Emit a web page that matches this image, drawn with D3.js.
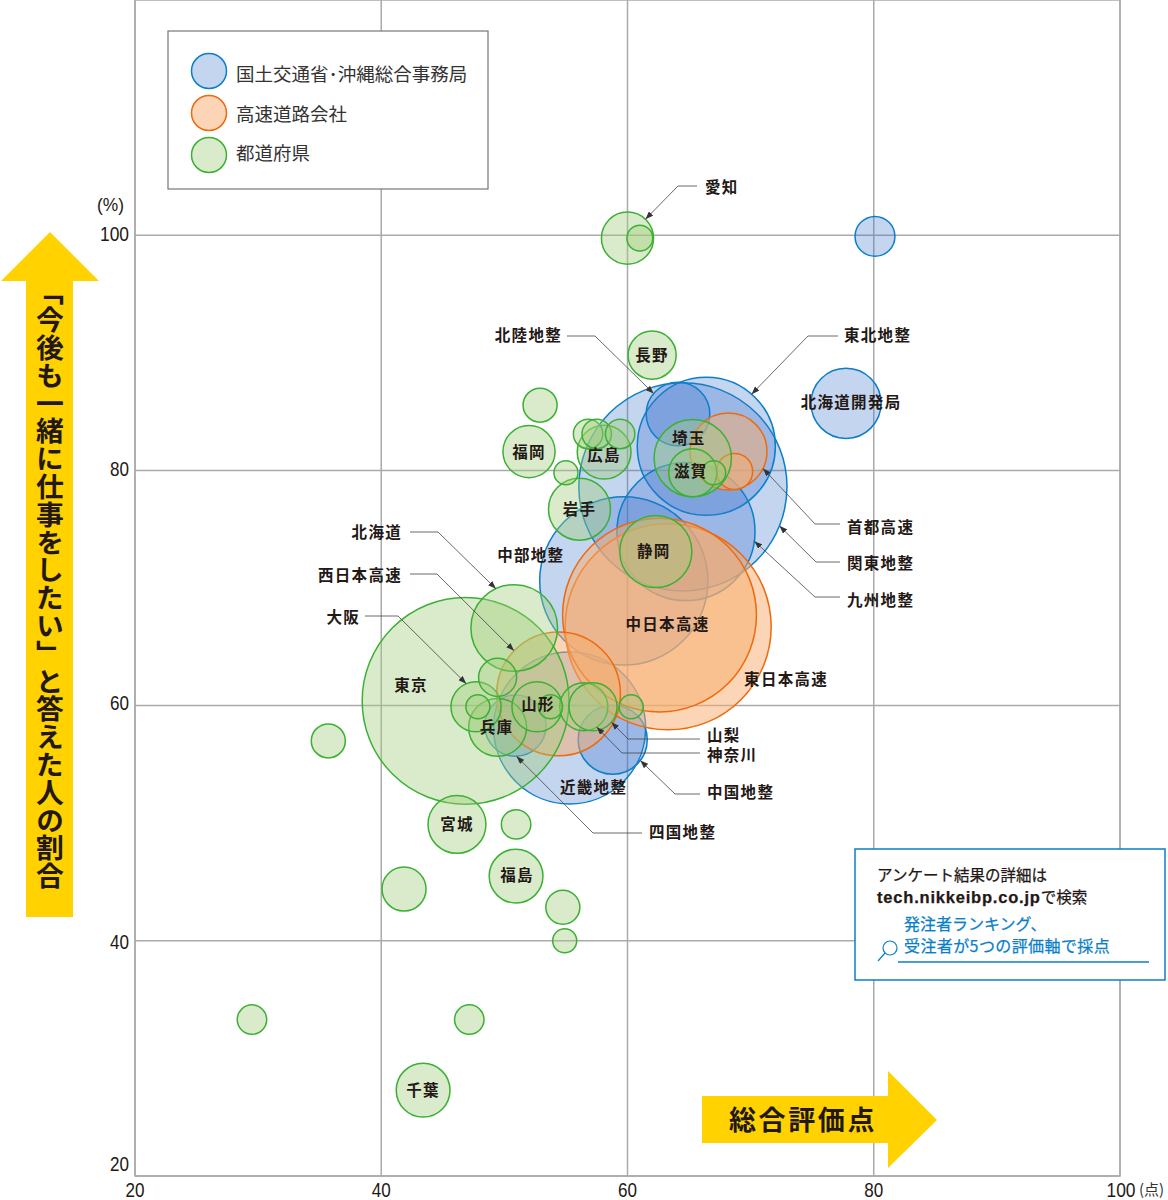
<!DOCTYPE html>
<html>
<head>
<meta charset="utf-8">
<script src="https://d3js.org/d3.v7.min.js"></script>
<style>
body { margin: 0; background: #fff; }
text { font-family: "Noto Sans CJK JP", sans-serif; fill: #231815; }
.tick text, .unit { font-family: "Liberation Sans", sans-serif; font-size: 20px; fill: #231815; }
.lbl { font-size: 15.5px; font-weight: 700; letter-spacing: 1.3px; }
.note { font-size: 15.5px; stroke: #231815; stroke-width: 0.25px; }
.note.blue { font-size: 16px; fill: #0a7fc8; stroke: #0a7fc8; }
</style>
</head>
<body>
<div id="chart"></div>
<script>
// 総合評価点 (x), 「今後も一緒に仕事をしたい」 % (y), 回答数 (bubble area)
var mlitNames = ["関東地整", "中部地整", "近畿地整", "東北地整", "九州地整", "中国地整", "北海道開発局", "北陸地整", "四国地整", ""];
var mlitScore = [64.5, 59.7, 55.3, 66.4, 64.75, 58.8, 77.75, 64.1, 50.9, 80.1];
var mlitRate = [78.6, 70.6, 58.1, 82.05, 74.8, 57.1, 85.7, 84.8, 58.3, 99.9];
var mlitCount = [150, 98, 80, 66, 66, 16.5, 17, 14, 13, 5.5];

var roadNames = ["東日本高速", "中日本高速", "西日本高速", "首都高速", ""];
var roadScore = [63.3, 62.6, 54.4, 68.2, 68.7];
var roadRate = [66.7, 67.7, 61.0, 81.6, 79.9];
var roadCount = [147, 130, 53, 20.5, 4.5];

var prefNames = ["東京", "北海道", "埼玉", "静岡", "岩手", "兵庫", "宮城", "福島", "千葉", "広島", "愛知", "福岡", "大阪", "山形", "滋賀", "神奈川", "山梨", "長野",
    "", "", "", "", "", "", "", "", "", "", "", "", "", "", "", "", "", ""];
var prefScore = [46.85, 50.8, 65.3, 62.3, 56.1, 49.45, 46.15, 50.95, 43.4, 58.1, 60.0, 52.0, 47.7, 52.65, 65.3, 56.45, 57.2, 62.0,
    61.0, 52.9, 56.8, 57.5, 59.4, 55.0, 67.0, 49.45, 47.85, 53.75, 60.3, 50.95, 35.7, 41.85, 54.75, 54.9, 29.5, 47.15];
var prefRate = [60.4, 66.6, 81.05, 73.1, 76.7, 58.15, 49.9, 45.5, 27.3, 81.55, 99.75, 81.6, 59.9, 59.9, 79.8, 59.9, 59.9, 89.8,
    99.75, 85.55, 83.1, 83.1, 83.1, 79.8, 79.8, 62.4, 59.9, 59.9, 59.9, 49.9, 57.0, 44.4, 42.85, 40.0, 33.3, 33.3];
var prefCount = [148, 26, 20.7, 18, 13.3, 11.6, 11.6, 10, 10, 10, 9.4, 9.4, 8.7, 8.7, 8, 8, 8, 8,
    2.3, 4, 3, 3, 3, 2, 2, 5, 2, 2, 2, 3, 4, 6.7, 4, 2, 3, 3];

var xTicks = [20, 40, 60, 80, 100];
var yTicks = [20, 40, 60, 80, 100];
var legendNames = ["国土交通省･沖縄総合事務局", "高速道路会社", "都道府県"];
var yTitle = "「今後も一緒に仕事をしたい」と答えた人の割合";
var xTitle = "総合評価点";

var width = 1168, height = 1200;
var plot = { left: 135, right: 1120, top: 0, bottom: 1176 };

var styles = [
    { fill: "rgba(60,115,205,0.3)", stroke: "#0a7fc8" },
    { fill: "rgba(247,171,107,0.5)", stroke: "#ee6a0c" },
    { fill: "rgba(160,205,122,0.4)", stroke: "#3cb034" }
];

var svg = d3.select("#chart").append("svg").attr("width", width).attr("height", height).style("display", "block");

var x = d3.scaleLinear().domain([20, 100]).range([plot.left, plot.right]);
var y = d3.scaleLinear().domain([20, 120]).range([plot.bottom, plot.top]);
var r = d3.scaleSqrt().domain([0, 150]).range([0, 104.1]);

function zipSeries(names, score, rate, count, style) {
    return names.map(function (n, i) { return { name: n, score: score[i], rate: rate[i], count: count[i], style: style }; });
}
var series = [
    zipSeries(mlitNames, mlitScore, mlitRate, mlitCount, 0),
    zipSeries(roadNames, roadScore, roadRate, roadCount, 1),
    zipSeries(prefNames, prefScore, prefRate, prefCount, 2)
];
var bubbles = d3.merge(series);
function bubble(name) { return bubbles.find(function (b) { return b.name === name; }); }

// frame and grid
svg.append("rect").attr("x", plot.left).attr("y", plot.top).attr("width", plot.right - plot.left).attr("height", plot.bottom - plot.top)
    .attr("fill", "none").attr("stroke", "#aaa").attr("stroke-width", 1.5);

var xAxis = svg.append("g").attr("transform", "translate(0," + plot.bottom + ")")
    .call(d3.axisBottom(x).tickValues(xTicks).tickSize(-(plot.bottom - plot.top)).tickPadding(7).offset(0));
var yAxis = svg.append("g").attr("transform", "translate(" + plot.left + ",0)")
    .call(d3.axisLeft(y).tickValues(yTicks).tickSize(-(plot.right - plot.left)).tickPadding(6).offset(0));
xAxis.select(".domain").remove();
yAxis.select(".domain").remove();
svg.selectAll(".tick line").attr("stroke", "#aaa").attr("stroke-width", 1.5);
svg.selectAll(".tick text")
    .attr("textLength", function (d) { return d === 100 ? 29 : 19; })
    .attr("lengthAdjust", "spacingAndGlyphs");
// the printed tick numbers do not sit exactly on their lines
var yTickShift = { 20: -11, 40: 2, 60: -2, 80: -1, 100: -1 };
yAxis.selectAll(".tick text").attr("dy", "0.32em").attr("transform", function (d) { return "translate(0," + yTickShift[d] + ")"; });
xAxis.selectAll(".tick text").attr("transform", function (d) { return d === 100 ? "translate(1,0)" : null; });

svg.append("text").attr("class", "unit").attr("x", 97).attr("y", 211).attr("textLength", 27).attr("lengthAdjust", "spacingAndGlyphs").style("font-size", "18px").text("(%)");
svg.append("text").attr("x", 1139).attr("y", 1195).style("font-size", "15px").style("fill", "#333").text("(点)");

// bubbles, one layer per series
series.forEach(function (list) {
    svg.append("g").selectAll("circle").data(list).enter().append("circle")
        .attr("cx", function (d) { return x(d.score); })
        .attr("cy", function (d) { return y(d.rate); })
        .attr("r", function (d) { return r(d.count); })
        .attr("fill", function (d) { return styles[d.style].fill; })
        .attr("stroke", function (d) { return styles[d.style].stroke; })
        .attr("stroke-width", 1.5);
});

// leader lines: name, text x, anchor, line start x, elbow x, y, angle on the bubble edge
var leaders = [
    ["愛知", 705, "start", 697, 678, 186, -46.5],
    ["北陸地整", 562, "end", 567, 595, 336, -140],
    ["東北地整", 844, "start", 838, 808, 336, -49],
    ["首都高速", 847, "start", 840, 815, 524, 26],
    ["関東地整", 847, "start", 840, 816, 562, 22],
    ["九州地整", 847, "start", 840, 815, 597, 8],
    ["北海道", 402, "end", 410, 438, 532, -115],
    ["西日本高速", 402, "end", 410, 437, 574, -136],
    ["大阪", 360, "end", 365, 398, 616, -113],
    ["四国地整", 649, "start", 642, 593, 833, 88],
    ["中国地整", 707, "start", 700, 675, 794, 37],
    ["神奈川", 707, "start", 700, 622, 753, 57.6],
    ["山梨", 707, "start", 700, 628, 739, 40]
];
var leaderTextY = { "愛知": 193, "北陸地整": 341, "東北地整": 341, "首都高速": 533, "関東地整": 569, "九州地整": 606, "北海道": 538, "西日本高速": 581, "大阪": 623, "四国地整": 838, "中国地整": 798, "神奈川": 761, "山梨": 741 };

svg.append("defs").append("marker").attr("id", "tip").attr("viewBox", "0 0 8 6").attr("refX", 8).attr("refY", 3)
    .attr("markerWidth", 8).attr("markerHeight", 6).attr("markerUnits", "userSpaceOnUse").attr("orient", "auto")
    .append("path").attr("d", "M0,0L8,3L0,6Z").attr("fill", "#333");

var line = d3.line();
leaders.forEach(function (l) {
    var b = bubble(l[0]), a = l[6] * Math.PI / 180, rad = r(b.count);
    var tip = [x(b.score) + rad * Math.cos(a), y(b.rate) + rad * Math.sin(a)];
    svg.append("path").attr("d", line([[l[3], l[5]], [l[4], l[5]], tip])).attr("fill", "none")
        .attr("stroke", "#444").attr("stroke-width", 0.8).attr("marker-end", "url(#tip)");
    svg.append("text").attr("class", "lbl").attr("x", l[1]).attr("y", leaderTextY[l[0]]).attr("text-anchor", l[2]).text(l[0]);
});

// labels that sit on or beside their bubble, offset from its centre
var labelOffsets = {
    "東京": [-54.5, -15.5], "宮城": [0, 0], "福島": [1, -1], "千葉": [0, 0], "兵庫": [-1, 0], "山形": [1, -2], "広島": [0, 3], "福岡": [0, 1],
    "岩手": [0, 0], "埼玉": [-4, -20], "滋賀": [-2, -1], "静岡": [-2, 0], "長野": [0, 0], "北海道開発局": [5, -1],
    "中部地整": [-93, -25], "中日本高速": [8, 9], "東日本高速": [118, 53], "近畿地整": [24, 60]
};
Object.keys(labelOffsets).forEach(function (name) {
    var b = bubble(name), o = labelOffsets[name];
    svg.append("text").attr("class", "lbl").attr("x", x(b.score) + o[0]).attr("y", y(b.rate) + o[1] + 5.5)
        .attr("text-anchor", "middle").text(name);
});

// legend
var legend = svg.append("g");
legend.append("rect").attr("x", 168).attr("y", 31).attr("width", 320).attr("height", 158)
    .attr("fill", "#fff").attr("stroke", "#777").attr("stroke-width", 1.2);
var legendY = d3.scalePoint().domain(legendNames).range([71, 155]);
var legendTextY = d3.scalePoint().domain(legendNames).range([81, 160]);
legend.selectAll("circle").data(legendNames).enter().append("circle")
    .attr("cx", 209).attr("cy", function (d) { return legendY(d); }).attr("r", 17.5)
    .attr("fill", function (d, i) { return styles[i].fill; })
    .attr("stroke", function (d, i) { return styles[i].stroke; }).attr("stroke-width", 1.5);
legend.selectAll("text").data(legendNames).enter().append("text")
    .attr("x", 236).attr("y", function (d) { return legendTextY(d); })
    .style("font-size", "18.5px").style("fill", "#333").text(function (d) { return d; });

// yellow arrows
svg.append("path").attr("d", "M50,232L99,281H73V917H26V281H1Z").attr("fill", "#ffd200");
svg.append("text").attr("x", 50).attr("y", 278).style("writing-mode", "vertical-rl").style("font-size", "27.8px").style("font-weight", 700).text(yTitle);
svg.append("path").attr("d", "M702,1096H888V1071L937,1120L888,1168V1143H702Z").attr("fill", "#ffd200");
svg.append("text").attr("x", 729).attr("y", 1130).style("font-size", "27px").style("font-weight", 700).style("letter-spacing", "2.6px").text(xTitle);

// note box
var note = svg.append("g");
note.append("rect").attr("x", 855).attr("y", 849).attr("width", 310).attr("height", 131).attr("fill", "#fff").attr("stroke", "#0a7fc8").attr("stroke-width", 1.5);
note.append("text").attr("class", "note").attr("x", 877).attr("y", 881).text("アンケート結果の詳細は");
var urlLine = note.append("text").attr("class", "note").attr("x", 877).attr("y", 903);
urlLine.append("tspan").style("font-family", "'Liberation Sans', sans-serif").style("font-size", "16.5px").style("font-weight", 700).style("letter-spacing", "0.8px").text("tech.nikkeibp.co.jp");
urlLine.append("tspan").text("で検索");
note.append("text").attr("class", "note blue").attr("x", 904).attr("y", 930).text("発注者ランキング、");
note.append("text").attr("class", "note blue").attr("x", 904).attr("y", 952).style("letter-spacing", "0.4px").text("受注者が5つの評価軸で採点");
note.append("path").attr("d", "M898,962H1149").attr("stroke", "#0a7fc8").attr("stroke-width", 1.5);
note.append("circle").attr("cx", 890).attr("cy", 948).attr("r", 7).attr("fill", "#fff").attr("stroke", "#0a7fc8").attr("stroke-width", 1.2);
note.append("path").attr("d", "M885,953L878,961").attr("stroke", "#0a7fc8").attr("stroke-width", 1.2);
</script>
</body>
</html>
